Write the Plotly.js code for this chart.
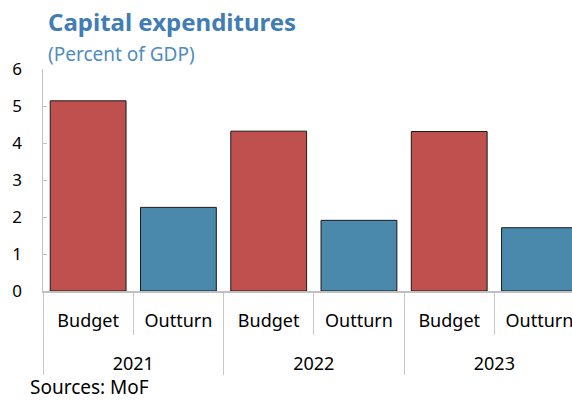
<!DOCTYPE html>
<html>
<head>
<meta charset="utf-8">
<script src="https://cdn.plot.ly/plotly-3.0.1.min.js"></script>
<style>html,body{margin:0;padding:0;background:#fff;}#chart{width:572px;height:400px;}</style>
</head>
<body>
<div id="chart"></div>
<script>
var years = ["2021", "2021", "2022", "2022", "2023", "2023"];
var kinds = ["Budget", "Outturn", "Budget", "Outturn", "Budget", "Outturn"];
var values = [5.14, 2.26, 4.32, 1.91, 4.31, 1.71];
var barColors = ["#C0504D", "#4A89AC", "#C0504D", "#4A89AC", "#C0504D", "#4A89AC"];
var yTicks = [0, 1, 2, 3, 4, 5, 6];

var font = "Noto Sans, Open Sans, sans-serif";
var trace = {
  type: "bar",
  x: [years, kinds.map(function (k) { return k + "<br><span style='font-size:37px'> </span>"; })],
  y: values,
  marker: {
    color: barColors,
    line: {color: "#1a1a1a", width: 1}
  },
  hoverinfo: "none"
};

var layout = {
  width: 572, height: 400,
  margin: {l: 43, r: 0, t: 69, b: 109},
  paper_bgcolor: "#fff", plot_bgcolor: "#fff",
  showlegend: false,
  bargap: 0.16,
  font: {family: font, size: 17, color: "#000"},
  xaxis: {
    type: "multicategory",
    range: [-0.5, 5.36],
    showline: true, linecolor: "#c0c0c0", linewidth: 1.5,
    ticks: "outside", ticklen: 42, tickcolor: "#c8c8c8", tickwidth: 1,
    ticklabelstandoff: 13,
    showdividers: true, dividercolor: "#c8c8c8", dividerwidth: 1,
    tickfont: {family: font, size: 18, color: "#000"},
    showgrid: false
  },
  yaxis: {
    range: [0, 6], tickvals: yTicks, ticktext: yTicks.map(String),
    showline: true, linecolor: "#c0c0c0", linewidth: 1.5,
    ticks: "inside", ticklen: 4, tickcolor: "#c0c0c0",
    ticklabelstandoff: 16,
    showgrid: false, zeroline: false,
    tickfont: {family: font, size: 17, color: "#000"}
  },
  annotations: [
    {text: "<b>Capital expenditures</b>", xref: "paper", yref: "paper", x: 0, y: 1,
     xanchor: "left", yanchor: "bottom", yshift: 29, xshift: 3, showarrow: false,
     font: {family: font, size: 24, color: "#417DB3"}},
    {text: "(Percent of GDP)", xref: "paper", yref: "paper", x: 0, y: 1,
     xanchor: "left", yanchor: "bottom", yshift: 0, xshift: 3, showarrow: false,
     font: {family: font, size: 19, color: "#4F8CC2"}},
    {text: "Sources: MoF", xref: "paper", yref: "paper", x: 0, y: 0,
     xanchor: "left", yanchor: "top", yshift: -81, xshift: -15, showarrow: false,
     font: {family: font, size: 19, color: "#000"}}
  ]
};

Plotly.newPlot("chart", [trace], layout, {displayModeBar: false, staticPlot: true});
</script>
</body>
</html>
